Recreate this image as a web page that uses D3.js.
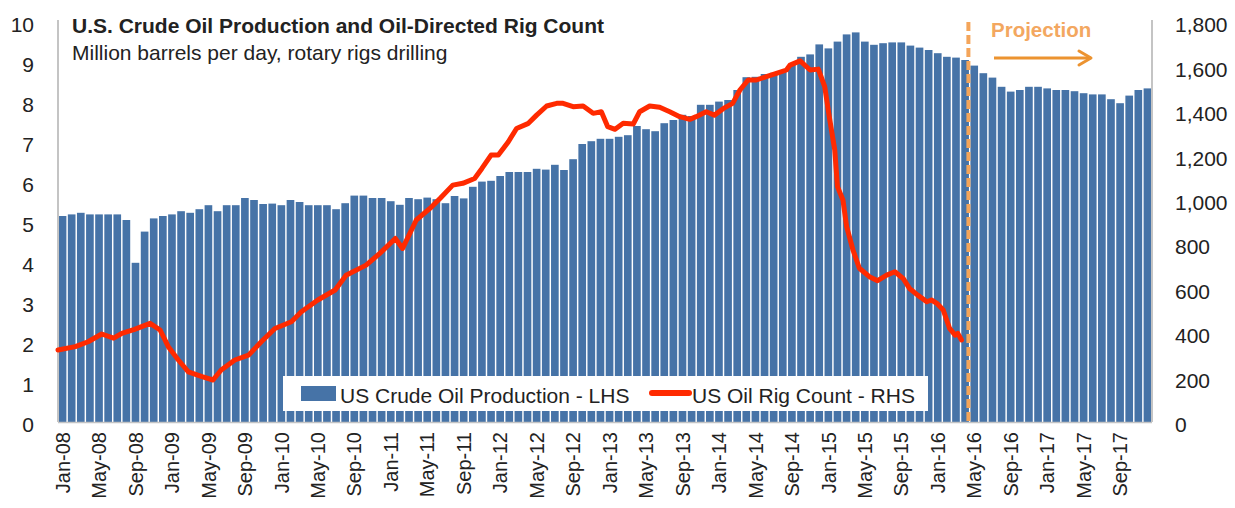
<!DOCTYPE html>
<html>
<head>
<meta charset="utf-8">
<script src="https://cdn.jsdelivr.net/npm/d3@7"></script>
<style>
  body { margin: 0; background: #fff; }
  text { font-family: "Liberation Sans", Arial, Helvetica, sans-serif; fill: #222; }
</style>
</head>
<body>
<div id="chart"></div>
<script>
// chart data

// months Jan-08 .. Dec-17 (categories for the bars)
var months = d3.timeMonth.range(new Date(2008, 0, 1), new Date(2018, 0, 1)).map(d3.timeFormat("%b-%y"));

var xTickLabels = ["Jan-08", "May-08", "Sep-08", "Jan-09", "May-09", "Sep-09", "Jan-10", "May-10", "Sep-10",
  "Jan-11", "May-11", "Sep-11", "Jan-12", "May-12", "Sep-12", "Jan-13", "May-13", "Sep-13",
  "Jan-14", "May-14", "Sep-14", "Jan-15", "May-15", "Sep-15", "Jan-16", "May-16", "Sep-16",
  "Jan-17", "May-17", "Sep-17"];

// US crude oil production, million b/d (LHS)
var production = [
  5.15, 5.19, 5.23, 5.19, 5.19, 5.19, 5.19, 5.05, 3.98, 4.76, 5.09, 5.15,
  5.19, 5.27, 5.23, 5.32, 5.42, 5.27, 5.42, 5.42, 5.60, 5.55, 5.45, 5.46,
  5.42, 5.55, 5.50, 5.42, 5.42, 5.42, 5.32, 5.47, 5.66, 5.66, 5.60, 5.60,
  5.52, 5.43, 5.60, 5.57, 5.61, 5.57, 5.47, 5.65, 5.59, 5.88, 6.01, 6.03,
  6.15, 6.25, 6.25, 6.25, 6.33, 6.31, 6.43, 6.30, 6.57, 6.95, 7.02, 7.08,
  7.08, 7.13, 7.17, 7.40, 7.32, 7.27, 7.47, 7.55, 7.68, 7.65, 7.93, 7.93,
  8.01, 8.05, 8.30, 8.62, 8.63, 8.70, 8.73, 8.80, 8.93, 9.13, 9.19, 9.44,
  9.34, 9.51, 9.69, 9.74, 9.51, 9.43, 9.47, 9.49, 9.49, 9.41, 9.36, 9.30,
  9.22, 9.13, 9.11, 9.05, 8.91, 8.72, 8.61, 8.38, 8.26, 8.30, 8.38, 8.38,
  8.34, 8.30, 8.30, 8.27, 8.22, 8.19, 8.19, 8.07, 7.97, 8.16, 8.30, 8.34
];

// oil rig count (RHS): position in months from Jan-08, and count
var rigMonth = [0, 1.9, 3.3, 4.8, 6.1, 7, 8.4, 10.1, 11.2, 12.1, 13.2, 14.3, 15.8, 17, 17.9, 19.4, 20.9,
  22.3, 23.8, 25.6, 26.7, 28.5, 30.4, 31.6, 33.8, 35.3, 37, 37.8, 39.3, 40.8, 41.9, 43.3, 44.4,
  45.7, 46.5, 47.5, 48.3, 49.4, 50.3, 51.6, 52.5, 53.6, 54.7, 55.4, 56.5, 57.6, 58.7, 59.6,
  60.3, 61.1, 62, 63.1, 63.8, 64.9, 66, 67.1, 68.2, 69.3, 70, 71.1, 72, 73, 74, 74.8, 75.7,
  76.6, 77.7, 78.8, 79.9, 80.3, 81.4, 82.5, 83.4, 84.1, 84.6, 85.2, 85.5, 86.1, 86.5, 87.2,
  87.9, 89, 89.9, 90.9, 91.8, 92.7, 93.4, 94.3, 95.3, 95.8, 96.4, 97.1, 97.8, 98.4, 98.7, 99.1];
var rigCount = [324, 339, 361, 396, 377, 399, 417, 444, 414, 339, 279, 226, 204, 189, 234, 279, 301,
  361, 421, 451, 496, 549, 594, 660, 706, 759, 826, 781, 909, 961, 1006, 1066, 1074,
  1096, 1141, 1201, 1201, 1261, 1321, 1344, 1381, 1422, 1434, 1434, 1419, 1422, 1389, 1396,
  1329, 1317, 1344, 1341, 1396, 1422, 1416, 1396, 1374, 1362, 1374, 1396, 1381, 1411, 1434, 1494, 1539,
  1539, 1554, 1569, 1584, 1606, 1625, 1584, 1588, 1509, 1374, 1224, 1059, 999, 880, 774,
  692, 654, 636, 661, 676, 646, 601, 571, 541, 549, 534, 504, 421, 391, 399, 369];

var leftTicks = [0, 1, 2, 3, 4, 5, 6, 7, 8, 9, 10];
var rightTicks = [0, 200, 400, 600, 800, 1000, 1200, 1400, 1600, 1800];

var projectionStart = "May-16";

// set up svg

var svgWidth = 1235;
var svgHeight = 508;
var plot = { left: 58, right: 1152, top: 22, bottom: 422 };

var svg = d3.select("#chart")
  .append("svg")
  .attr("width", svgWidth)
  .attr("height", svgHeight);

var xBand = d3.scaleBand()
  .domain(months)
  .range([plot.left, plot.right])
  .paddingInner(0.16)
  .paddingOuter(0.08);

var xMonth = d3.scaleLinear()
  .domain([0, 120])
  .range([plot.left, plot.right]);

var yLeft = d3.scaleLinear().domain([0, 10]).range([plot.bottom, plot.top]);
var yRight = d3.scaleLinear().domain([0, 1800]).range([plot.bottom, plot.top]);

// bars
svg.append("g")
  .selectAll("rect")
  .data(production)
  .enter()
  .append("rect")
  .attr("x", (d, i) => xBand(months[i]))
  .attr("y", d => yLeft(d))
  .attr("width", xBand.bandwidth())
  .attr("height", d => yLeft(0) - yLeft(d))
  .attr("fill", "#4673a7");

// frame lines
svg.append("line")
  .attr("x1", plot.left).attr("x2", plot.left)
  .attr("y1", 20).attr("y2", plot.bottom)
  .attr("stroke", "#c4c4c4").attr("stroke-width", 2);
svg.append("line")
  .attr("x1", plot.right).attr("x2", plot.right)
  .attr("y1", 20).attr("y2", plot.bottom)
  .attr("stroke", "#c4c4c4").attr("stroke-width", 2);
svg.append("line")
  .attr("x1", plot.left).attr("x2", plot.right)
  .attr("y1", plot.bottom + 0.5).attr("y2", plot.bottom + 0.5)
  .attr("stroke", "#c4c4c4").attr("stroke-width", 1.5);

// legend box (drawn under the line, over the bars)
var legend = svg.append("g");
legend.append("rect")
  .attr("x", 283).attr("y", 376)
  .attr("width", 645).attr("height", 35)
  .attr("fill", "#fff");
legend.append("rect")
  .attr("x", 301).attr("y", 386)
  .attr("width", 35).attr("height", 15)
  .attr("fill", "#4673a7");
legend.append("text")
  .attr("x", 340).attr("y", 403)
  .attr("font-size", 21)
  .text("US Crude Oil Production - LHS");
legend.append("line")
  .attr("x1", 652).attr("x2", 689)
  .attr("y1", 393).attr("y2", 393)
  .attr("stroke", "#ff2a00").attr("stroke-width", 6)
  .attr("stroke-linecap", "round");
legend.append("text")
  .attr("x", 692).attr("y", 403)
  .attr("font-size", 21)
  .text("US Oil Rig Count - RHS");

// rig count line
var rigLine = d3.line()
  .x((d, i) => xMonth(rigMonth[i]))
  .y(d => yRight(d))
  .curve(d3.curveLinear);

svg.append("path")
  .datum(rigCount)
  .attr("d", rigLine)
  .attr("fill", "none")
  .attr("stroke", "#ff2a00")
  .attr("stroke-width", 5)
  .attr("stroke-linejoin", "round")
  .attr("stroke-linecap", "round");

// projection marker
var px = xBand(projectionStart) - 2;
svg.append("line")
  .attr("x1", px).attr("x2", px)
  .attr("y1", 22).attr("y2", plot.bottom)
  .attr("stroke", "#f4a55a")
  .attr("stroke-width", 4)
  .attr("stroke-dasharray", "9,4");

svg.append("text")
  .attr("x", 991).attr("y", 37)
  .attr("font-size", 20.5)
  .attr("font-weight", "bold")
  .style("fill", "#f3a760")
  .text("Projection");

svg.append("line")
  .attr("x1", 994).attr("x2", 1091)
  .attr("y1", 58).attr("y2", 58)
  .attr("stroke", "#ec9330").attr("stroke-width", 3);
svg.append("path")
  .attr("d", "M1079,51 L1091,58 L1079,65")
  .attr("fill", "none")
  .attr("stroke", "#ec9330").attr("stroke-width", 3)
  .attr("stroke-linejoin", "round")
  .attr("stroke-linecap", "round");

// axes
var leftAxis = d3.axisLeft(yLeft).tickValues(leftTicks).tickSize(0).tickPadding(24);
var rightAxis = d3.axisRight(yRight).tickValues(rightTicks).tickSize(0).tickPadding(23).tickFormat(d3.format(","));
var bottomAxis = d3.axisBottom(xBand).tickValues(xTickLabels).tickSize(0);

var gl = svg.append("g").attr("transform", `translate(${plot.left},3)`).call(leftAxis);
var gr = svg.append("g").attr("transform", `translate(${plot.right},3)`).call(rightAxis);
var gb = svg.append("g").attr("transform", `translate(0,${plot.bottom})`).call(bottomAxis);

[gl, gr, gb].forEach(function(g) {
  g.select(".domain").remove();
  g.selectAll("text")
    .attr("font-family", null)
    .style("fill", "#222");
});
gl.attr("font-size", null).selectAll("text").attr("font-size", 21);
gr.attr("font-size", null).selectAll("text").attr("font-size", 21);

gb.attr("font-size", null).selectAll("text")
  .attr("font-size", 20)
  .attr("transform", "rotate(-90)")
  .attr("text-anchor", "end")
  .attr("x", -10)
  .attr("y", 0)
  .attr("dy", "0.36em");

// titles
svg.append("text")
  .attr("x", 72).attr("y", 33)
  .attr("font-size", 21)
  .attr("font-weight", "bold")
  .text("U.S. Crude Oil Production and Oil-Directed Rig Count");

svg.append("text")
  .attr("x", 72).attr("y", 60)
  .attr("font-size", 21)
  .text("Million barrels per day, rotary rigs drilling");
</script>
</body>
</html>
